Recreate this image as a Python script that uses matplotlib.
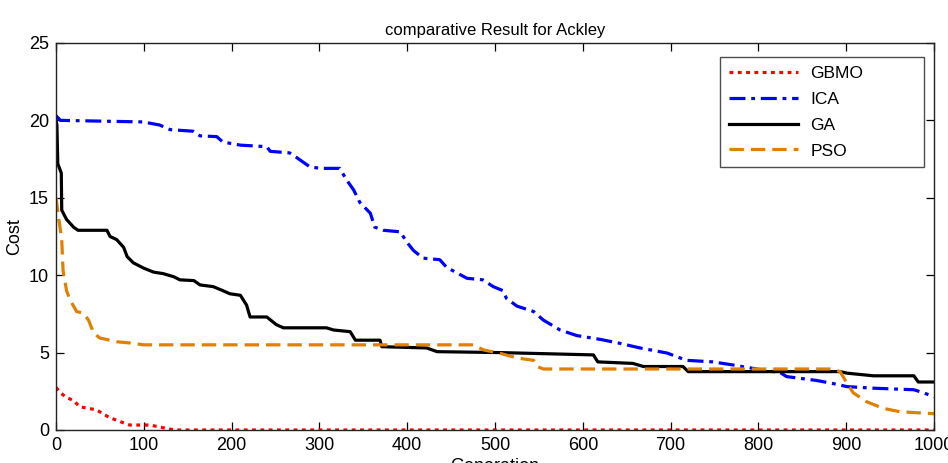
import matplotlib
matplotlib.use("Agg")
import matplotlib.pyplot as plt

plt.rcParams['font.family'] = ['Liberation Sans', 'DejaVu Sans']

# convergence curves read per generation (x, cost)
gbmo_x = [0, 5, 12, 20, 27, 46, 61, 75, 84, 107, 126, 135, 1000]
gbmo_y = [2.75, 2.4, 2.1, 1.9, 1.5, 1.3, 0.8, 0.5, 0.32, 0.32, 0.1, 0.0, 0.0]

ica_x = [0, 5, 99, 118, 130, 156, 164, 183, 190, 210, 240, 244, 266, 274, 289, 301,
         323, 331, 339, 346, 358, 363, 373, 392, 400, 407, 418, 437, 445, 468, 486,
         498, 509, 513, 525, 544, 555, 574, 593, 620, 642, 665, 696, 718, 748, 771,
         802, 825, 832, 866, 885, 901, 931, 977, 988, 1000]
ica_y = [20.3, 20.0, 19.9, 19.7, 19.4, 19.3, 19.0, 18.95, 18.6, 18.4, 18.3, 18.0, 17.9,
         17.6, 17.0, 16.9, 16.9, 16.15, 15.5, 14.7, 14.0, 13.1, 12.9, 12.8, 12.1, 11.6,
         11.1, 11.0, 10.5, 9.8, 9.7, 9.26, 9.0, 8.5, 8.0, 7.65, 7.1, 6.46, 6.1, 5.85,
         5.6, 5.3, 4.97, 4.5, 4.4, 4.2, 3.9, 3.7, 3.45, 3.2, 3.0, 2.8, 2.7, 2.6, 2.4, 2.15]

ga_x = [0, 1, 2, 6, 6.5, 12, 20, 25, 58, 61.5, 69, 77, 81, 88, 100, 111, 122, 134, 141,
        157, 164, 179, 190, 198, 210, 217, 221, 240, 251, 259, 308, 316, 335, 341, 369,
        371, 422, 434, 506, 612, 617, 657, 669, 714, 720, 893, 901, 931, 977, 982, 1000]
ga_y = [20.0, 19.7, 17.2, 16.6, 14.2, 13.6, 13.1, 12.9, 12.9, 12.5, 12.3, 11.8, 11.2,
        10.8, 10.45, 10.2, 10.1, 9.9, 9.7, 9.65, 9.37, 9.26, 9.0, 8.8, 8.7, 8.07, 7.3,
        7.3, 6.8, 6.6, 6.6, 6.46, 6.35, 5.8, 5.8, 5.38, 5.3, 5.06, 5.0, 4.85, 4.4, 4.3,
        4.1, 4.1, 3.77, 3.77, 3.67, 3.5, 3.5, 3.1, 3.1]

pso_x = [0, 2.3, 6.5, 8, 12, 16, 23.5, 31, 37, 43, 50, 69, 88, 100, 475, 487, 506, 525,
         544, 548, 555, 885, 893, 901, 908, 923, 942, 961, 1000]
pso_y = [15.0, 14.0, 12.3, 10.3, 9.0, 8.4, 7.65, 7.55, 7.1, 6.25, 5.94, 5.7, 5.6, 5.5,
         5.5, 5.17, 4.95, 4.65, 4.5, 4.1, 3.94, 3.94, 3.77, 3.0, 2.4, 1.83, 1.4, 1.18, 1.05]

fig = plt.figure(figsize=(9.48, 4.63), dpi=100)
ax = fig.add_axes([0.0591, 0.0713, 0.9262, 0.8359])

lw = 2.3
ax.plot(gbmo_x, gbmo_y, color='#ff0000', lw=lw, linestyle=(0, (1.2, 1.4)), label='GBMO')
ax.plot(ica_x, ica_y, color='#0000ff', lw=lw, linestyle=(0, (5, 1.8, 1.2, 1.8)), label='ICA')
ax.plot(ga_x, ga_y, color='black', lw=lw, label='GA')
ax.plot(pso_x, pso_y, color='#e08000', lw=lw, linestyle=(0, (4.5, 2.2)), label='PSO')

ax.set_xlim(0, 1000)
ax.set_ylim(0, 25)
ax.set_xticks(range(0, 1001, 100))
ax.set_yticks(range(0, 26, 5))
ax.tick_params(direction='in', length=6, width=0.9, top=True, right=True,
               labelsize=13, pad=5)
for s in ax.spines.values():
    s.set_linewidth(1.0)
    s.set_color('#222222')

ax.set_title('comparative Result for Ackley', fontsize=12, pad=6)
ax.set_ylabel('Cost', fontsize=13, labelpad=4)
ax.set_xlabel('Generation', fontsize=13, labelpad=3)

# legend stretched over a fixed box in the upper right corner
leg = ax.legend(loc='upper right', bbox_to_anchor=(0.7563, 0.6822, 0.2323, 0.2816),
                mode='expand', fontsize=12.5, frameon=True, fancybox=False,
                edgecolor='#222222', handlelength=4.0, borderpad=0.5,
                labelspacing=0.62, handletextpad=0.7, borderaxespad=0)
leg.get_frame().set_linewidth(1.0)

fig.savefig('out.png', dpi=100)
